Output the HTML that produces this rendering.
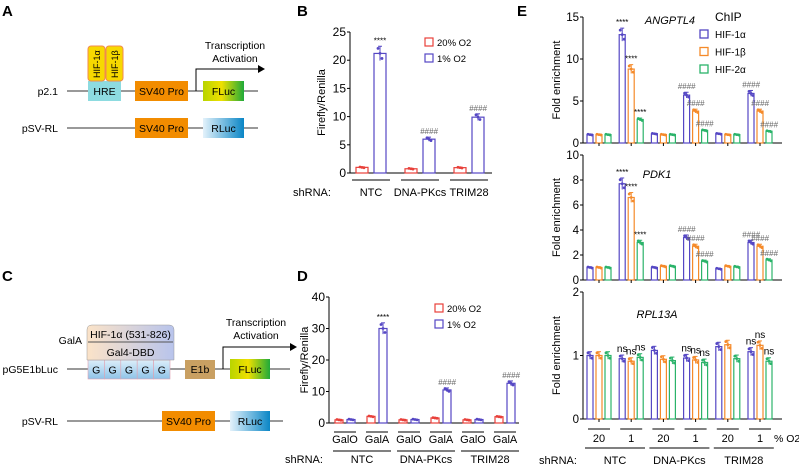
<!DOCTYPE html>
<html><head><meta charset="utf-8"><style>
body{margin:0;background:#fff;}
svg{display:block;font-family:"Liberation Sans",sans-serif;}
</style></head><body>
<svg id="fig" width="799" height="465" viewBox="0 0 799 465" xmlns="http://www.w3.org/2000/svg">
<defs>
<linearGradient id="fl" x1="0" x2="1"><stop offset="0" stop-color="#b8d400"/><stop offset="0.45" stop-color="#f0e000"/><stop offset="1" stop-color="#1faa3a"/></linearGradient>
<linearGradient id="rl" x1="0" x2="1"><stop offset="0" stop-color="#e4f2fb"/><stop offset="1" stop-color="#0a86c6"/></linearGradient>
<linearGradient id="gb" x1="0" x2="0" y1="0" y2="1"><stop offset="0" stop-color="#dceefa"/><stop offset="1" stop-color="#8fc3e8"/></linearGradient>
<linearGradient id="cap" x1="0" x2="1"><stop offset="0" stop-color="#fbe3c8"/><stop offset="1" stop-color="#b8c4ec"/></linearGradient>
</defs>
<g font-weight="bold" font-size="15" fill="#000">
<text x="2" y="16">A</text>
<text x="297" y="16">B</text>
<text x="2" y="281">C</text>
<text x="297" y="281">D</text>
<text x="517" y="16">E</text>
</g>
<g font-size="10.5">
<line x1="67" y1="91" x2="258" y2="91" stroke="#333"/>
<text x="58" y="95" text-anchor="end">p2.1</text>
<rect x="88" y="81" width="33" height="20" fill="#8ddbe0"/><text x="104.5" y="95" text-anchor="middle">HRE</text>
<rect x="88" y="46" width="17" height="35" rx="3" fill="#f7d900" stroke="#f08a50"/>
<rect x="106" y="46" width="17" height="35" rx="3" fill="#f7d900" stroke="#f08a50"/>
<text transform="translate(100,78) rotate(-90)" font-size="9">HIF-1α</text>
<text transform="translate(118,78) rotate(-90)" font-size="9">HIF-1β</text>
<rect x="135" y="81" width="53" height="20" fill="#f28c00"/><text x="161.5" y="95" text-anchor="middle">SV40 Pro</text>
<rect x="203" y="81" width="41" height="20" fill="url(#fl)"/><text x="223.5" y="95" text-anchor="middle">FLuc</text>
<polyline points="196,91 196,69 258,69" fill="none" stroke="#000"/><polygon points="258,65 265,69 258,73" fill="#000"/>
<text x="235" y="49" text-anchor="middle">Transcription</text><text x="235" y="62" text-anchor="middle">Activation</text>
<line x1="67" y1="128" x2="258" y2="128" stroke="#333"/>
<text x="58" y="132" text-anchor="end">pSV-RL</text>
<rect x="135" y="118" width="53" height="20" fill="#f28c00"/><text x="161.5" y="132" text-anchor="middle">SV40 Pro</text>
<rect x="203" y="118" width="41" height="20" fill="url(#rl)"/><text x="223.5" y="132" text-anchor="middle">RLuc</text>
</g>
<g font-size="10.5">
<line x1="67" y1="369" x2="290" y2="369" stroke="#333"/>
<text x="58" y="373" text-anchor="end">pG5E1bLuc</text>
<g id="gboxes"></g>
<path d="M87,360 L87,330 Q87,325 92,325 L169,325 Q174,325 174,330 L174,360 Z" fill="url(#cap)" stroke="#999" stroke-width="0.5"/>
<line x1="88" y1="342" x2="173" y2="342" stroke="#555"/>
<text x="130.5" y="338" text-anchor="middle">HIF-1α (531-826)</text>
<text x="130.5" y="356" text-anchor="middle">Gal4-DBD</text>
<text x="82" y="344" text-anchor="end">GalA</text>
<rect x="185" y="360" width="30" height="19" fill="#c9a062"/><text x="200" y="373" text-anchor="middle">E1b</text>
<rect x="230" y="359" width="40" height="20" fill="url(#fl)"/><text x="250" y="373" text-anchor="middle">FLuc</text>
<polyline points="223,369 223,347 290,347" fill="none" stroke="#000"/><polygon points="290,343 297,347 290,351" fill="#000"/>
<text x="256" y="326" text-anchor="middle">Transcription</text><text x="256" y="339" text-anchor="middle">Activation</text>
<line x1="67" y1="421" x2="283" y2="421" stroke="#333"/>
<text x="58" y="425" text-anchor="end">pSV-RL</text>
<rect x="162" y="411" width="53" height="20" fill="#f28c00"/><text x="188.5" y="425" text-anchor="middle">SV40 Pro</text>
<rect x="230" y="411" width="40" height="20" fill="url(#rl)"/><text x="250" y="425" text-anchor="middle">RLuc</text>
</g>
<g id="charts"></g>
</svg>
<script>
const bGroups = ["NTC","DNA-PKcs","TRIM28"];
const bNorm = [1.0, 0.75, 0.95];
const bHyp = [21.2, 6.0, 9.9];
const bMarks = ["****","####","####"];
const bTicks = [0,5,10,15,20,25];
const dGroups = ["NTC","DNA-PKcs","TRIM28"];
const dSub = ["GalO","GalA","GalO","GalA","GalO","GalA"];
const dNorm = [1.0, 2.1, 1.0, 1.6, 1.0, 2.0];
const dHyp = [1.1, 30.0, 1.1, 10.5, 1.1, 12.6];
const dMarks = ["","****","","####","","####"];
const dTicks = [0,10,20,30,40];
const eO2 = ["20","1","20","1","20","1"];
const eShrna = ["NTC","DNA-PKcs","TRIM28"];
const angHif1a = [1.0, 12.9, 1.1, 5.7, 1.1, 5.9];
const angHif1b = [1.0, 8.8, 1.0, 3.8, 1.0, 3.8];
const angHif2a = [1.0, 2.8, 1.0, 1.5, 1.0, 1.4];
const angTicks = [0,5,10,15];
const pdkHif1a = [1.0, 7.7, 1.0, 3.4, 0.9, 3.0];
const pdkHif1b = [1.0, 6.6, 1.1, 2.7, 1.1, 2.7];
const pdkHif2a = [1.0, 3.0, 1.1, 1.5, 1.05, 1.6];
const pdkTicks = [0,2,4,6,8,10];
const rplHif1a = [1.0, 0.95, 1.08, 0.96, 1.14, 1.06];
const rplHif1b = [1.0, 0.91, 0.94, 0.93, 1.17, 1.16];
const rplHif2a = [1.0, 0.97, 0.92, 0.89, 0.95, 0.91];
const rplTicks = [0,1,2];
const angMarks = [["","",""],["****","****","****"],["","",""],["####","####","####"],["","",""],["####","####","####"]];
const pdkMarks = angMarks;
const rplMarks = [["","",""],["ns","ns","ns"],["","",""],["ns","ns","ns"],["","",""],["ns","ns","ns"]];

const NS="http://www.w3.org/2000/svg";
const root=document.getElementById('charts');
function el(tag,attrs,parent,text){const e=document.createElementNS(NS,tag);for(const k in attrs)e.setAttribute(k,attrs[k]);if(text!==undefined)e.textContent=text;(parent||root).appendChild(e);return e;}

const gb=document.getElementById('gboxes');
for(let i=0;i<5;i++){const r=el('rect',{x:88+i*16.4,y:360,width:16.4,height:19,fill:'url(#gb)',stroke:'#e0a0b0','stroke-width':0.6},gb);


el('text',{x:96.2+i*16.4,y:373.5,'text-anchor':'middle','font-size':10.5},gb,'G');}

function yAxis(g,x,y0,y1,ticks,max,label,labelX,fs){
  el('line',{x1:x,y1:y0,x2:x,y2:y1,stroke:'#000'},g);
  ticks.forEach(t=>{const y=y0-(t/max)*(y0-y1);el('line',{x1:x-3,y1:y,x2:x,y2:y,stroke:'#000'},g);el('text',{x:x-4,y:y+4,'text-anchor':'end','font-size':fs},g,String(t));});
  const cy=(y0+y1)/2;el('text',{transform:`translate(${labelX},${cy}) rotate(-90)`,'text-anchor':'middle','font-size':11},g,label);
}
function bar(g,x,w,y0,val,sc,color,name,mark){
  const h=val*sc;const r=el('rect',{x:x,y:y0-h,width:w,height:h,fill:'none',stroke:color,'stroke-width':1.2},g);
  
  
  const cx=x+w/2, e=Math.max(0.5,h*0.06);
  el('line',{x1:cx,y1:y0-h-e,x2:cx,y2:y0-h+e,stroke:color},g);
  el('line',{x1:cx-2,y1:y0-h-e,x2:cx+2,y2:y0-h-e,stroke:color},g);
  [-2,0,2].forEach((d,i)=>el('circle',{cx:cx+d,cy:y0-h+(i-1)*e*0.7,r:1.4,fill:color},g));
  if(mark){el('text',{x:cx,y:y0-h-e-3,'text-anchor':'middle','font-size':mark==='ns'?10:8,fill:mark[0]==='#'?'#666':'#000','font-style':mark[0]==='#'?'italic':'normal'},g,mark);}
}
const RED='#e8403a', BLUE='#5547c4', ORANGE='#f58a2a', GREEN='#2bb36a';

(function(){const g=el('g',{});
const x0=350,y0=173,y1=32,max=25,sc=(y0-y1)/max;
yAxis(g,x0,y0,y1,bTicks,max,'Firefly/Renilla',325,12);
el('line',{x1:x0,y1:y0,x2:492,y2:y0,stroke:'#000'},g);
bGroups.forEach((n,i)=>{const gx=356+i*49;
 bar(g,gx,12,y0,bNorm[i],sc,RED,'bar-b-20pct-'+i,'');
 bar(g,gx+18,12,y0,bHyp[i],sc,BLUE,'bar-b-1pct-'+i,bMarks[i]);
 el('line',{x1:gx-4,y1:180,x2:gx+34,y2:180,stroke:'#000'},g);
 el('text',{x:gx+15,y:196,'text-anchor':'middle','font-size':11},g,n);});
el('text',{x:312,y:196,'text-anchor':'middle','font-size':11},g,'shRNA:');
const lg=el('g',{},g);
el('rect',{x:425,y:38,width:8,height:8,fill:'none',stroke:RED,'stroke-width':1.2},lg);el('text',{x:437,y:46,'font-size':9.5},lg,'20% O2');
el('rect',{x:425,y:54,width:8,height:8,fill:'none',stroke:BLUE,'stroke-width':1.2},lg);el('text',{x:437,y:62,'font-size':9.5},lg,'1% O2');
})();

(function(){const g=el('g',{});
const x0=329,y0=423,y1=297,max=40,sc=(y0-y1)/max;
yAxis(g,x0,y0,y1,dTicks,max,'Firefly/Renilla',308,12);
el('line',{x1:x0,y1:y0,x2:519,y2:y0,stroke:'#000'},g);
dSub.forEach((s,i)=>{const gx=335+i*32;
 bar(g,gx,8,y0,dNorm[i],sc,RED,'bar-d-20pct-'+i,'');
 bar(g,gx+12,8,y0,dHyp[i],sc,BLUE,'bar-d-1pct-'+i,dMarks[i]);
 el('line',{x1:gx-1,y1:432,x2:gx+21,y2:432,stroke:'#000'},g);
 el('text',{x:gx+10,y:443,'text-anchor':'middle','font-size':11},g,s);});
dGroups.forEach((n,i)=>{const gx=335+i*64;
 el('line',{x1:gx-2,y1:451,x2:gx+56,y2:451,stroke:'#000'},g);
 el('text',{x:gx+27,y:463,'text-anchor':'middle','font-size':11},g,n);});
el('text',{x:304,y:463,'text-anchor':'middle','font-size':11},g,'shRNA:');
const lg=el('g',{},g);
el('rect',{x:435,y:304,width:8,height:8,fill:'none',stroke:RED,'stroke-width':1.2},lg);el('text',{x:447,y:312,'font-size':9.5},lg,'20% O2');
el('rect',{x:435,y:320,width:8,height:8,fill:'none',stroke:BLUE,'stroke-width':1.2},lg);el('text',{x:447,y:328,'font-size':9.5},lg,'1% O2');
})();

function eChart(name,title,ty,y0,y1,max,ticks,a,b,c,marks){
 const g=el('g',{});
 const x0=583,sc=(y0-y1)/max;
 yAxis(g,x0,y0,y1,ticks,max,'Fold enrichment',560,11.5);
 el('line',{x1:x0,y1:y0,x2:782,y2:y0,stroke:'#000'},g);
 el('text',{x:title==='ANGPTL4'?670:657,y:ty,'text-anchor':'middle','font-size':11,'font-style':'italic'},g,title);
 a.forEach((v,i)=>{const gx=587+i*32.2;
  bar(g,gx,6,y0,a[i],sc,BLUE,name+'-hif1a-'+i,marks[i][0]);
  bar(g,gx+9,6,y0,b[i],sc,ORANGE,name+'-hif1b-'+i,marks[i][1]);
  bar(g,gx+18,6,y0,c[i],sc,GREEN,name+'-hif2a-'+i,marks[i][2]);
  el('line',{x1:gx+12,y1:y0,x2:gx+12,y2:y0+3,stroke:'#000'},g);});
}
eChart('chart-e-angptl4','ANGPTL4',24,143,17,15,angTicks,angHif1a,angHif1b,angHif2a,angMarks);
eChart('chart-e-pdk1','PDK1',178,280,155,10,pdkTicks,pdkHif1a,pdkHif1b,pdkHif2a,pdkMarks);
eChart('chart-e-rpl13a','RPL13A',318,419,292,2,rplTicks,rplHif1a,rplHif1b,rplHif2a,rplMarks);
(function(){const g=el('g',{});
 eO2.forEach((s,i)=>{const gx=587+i*32.2;
  el('line',{x1:gx+1,y1:429,x2:gx+23,y2:429,stroke:'#000'},g);
  el('text',{x:gx+12,y:442,'text-anchor':'middle','font-size':11},g,s);});
 eShrna.forEach((n,i)=>{const gx=587+i*64.4;
  el('line',{x1:gx-2,y1:448,x2:gx+58,y2:448,stroke:'#000'},g);
  el('text',{x:gx+28,y:464,'text-anchor':'middle','font-size':11},g,n);});
 el('text',{x:558,y:464,'text-anchor':'middle','font-size':11},g,'shRNA:');
 el('text',{x:774,y:442,'font-size':10.5},g,'% O2');
 const lg=el('g',{},g);
 el('text',{x:715,y:21,'font-size':12},lg,'ChIP');
 [[BLUE,'HIF-1α'],[ORANGE,'HIF-1β'],[GREEN,'HIF-2α']].forEach((p,i)=>{
  el('rect',{x:700,y:30+i*17.5,width:8,height:8,fill:'none',stroke:p[0],'stroke-width':1.3},lg);
  el('text',{x:715,y:38+i*17.5,'font-size':10},lg,p[1]);});
})();
</script>
</body></html>
